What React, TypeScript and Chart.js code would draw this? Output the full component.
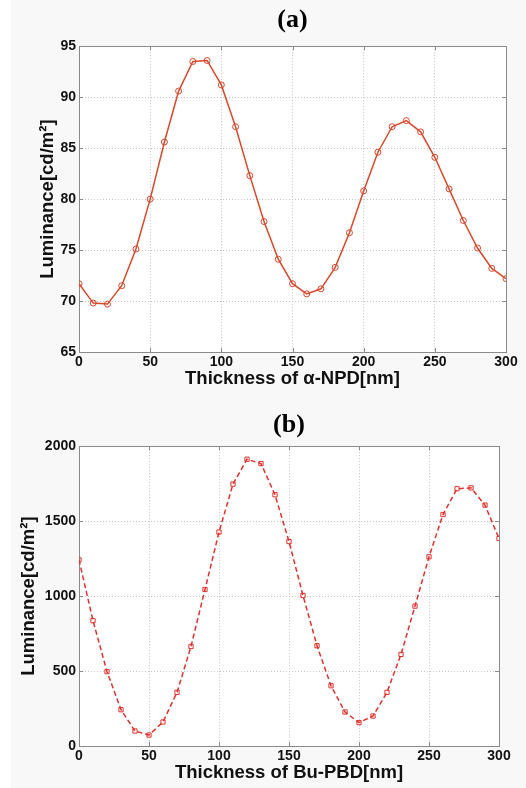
import React, { useEffect, useRef } from "react";
import { Chart, registerables } from "chart.js";

Chart.register(...registerables);

const thickness = [0, 10, 20, 30, 40, 50, 60, 70, 80, 90, 100, 110, 120, 130, 140, 150, 160, 170, 180, 190, 200, 210, 220, 230, 240, 250, 260, 270, 280, 290, 300];
const npdLuminance = [71.7, 69.8, 69.7, 71.5, 75.1, 80.0, 85.6, 90.6, 93.5, 93.6, 91.2, 87.1, 82.3, 77.8, 74.1, 71.7, 70.7, 71.2, 73.3, 76.7, 80.8, 84.6, 87.1, 87.7, 86.6, 84.1, 81.0, 77.9, 75.2, 73.2, 72.2];
const pbdLuminance = [1242, 836, 496, 242, 100, 73, 160, 358, 664, 1044, 1427, 1747, 1913, 1884, 1676, 1364, 1004, 669, 402, 227, 156, 200, 358, 611, 933, 1262, 1544, 1716, 1722, 1607, 1384];
const xTicks = [0, 50, 100, 150, 200, 250, 300];
const npdTicks = [65, 70, 75, 80, 85, 90, 95];
const pbdTicks = [0, 500, 1000, 1500, 2000];

const titleA = "(a)";
const titleB = "(b)";
const xLabelA = "Thickness of α-NPD[nm]";
const xLabelB = "Thickness of Bu-PBD[nm]";
const yLabel = "Luminance[cd/m²]";

const boxPlugin = {
  id: "matlabBox",
  beforeDraw(chart: any) {
    const { ctx, chartArea: a } = chart;
    ctx.save();
    ctx.fillStyle = "#ffffff";
    ctx.fillRect(a.left, a.top, a.width, a.height);
    ctx.restore();
  },
  beforeDatasetsDraw(chart: any) {
    const { ctx, chartArea: a, scales } = chart;
    ctx.save();
    ctx.strokeStyle = "#8a8a8a";
    ctx.lineWidth = 1;
    ctx.strokeRect(Math.round(a.left) + 0.5, Math.round(a.top) + 0.5, Math.round(a.width), Math.round(a.height));
    const tl = 4;
    ctx.beginPath();
    scales.x.ticks.forEach((t: any) => {
      const px = Math.round(scales.x.getPixelForValue(t.value)) + 0.5;
      ctx.moveTo(px, a.bottom);
      ctx.lineTo(px, a.bottom - tl);
      ctx.moveTo(px, a.top);
      ctx.lineTo(px, a.top + tl);
    });
    scales.y.ticks.forEach((t: any) => {
      const py = Math.round(scales.y.getPixelForValue(t.value)) + 0.5;
      ctx.moveTo(a.left, py);
      ctx.lineTo(a.left + tl, py);
      ctx.moveTo(a.right, py);
      ctx.lineTo(a.right - tl, py);
    });
    ctx.stroke();
    ctx.restore();
  },
};

type Cfg = {
  title: string;
  xLabel: string;
  values: number[];
  yTicks: number[];
  color: string;
  dash: number[];
  pointStyle: string;
  padTop: number;
  titleGap: number;
  padRight: number;
  yScaleWidth: number;
  yTitlePad: number;
};

function Panel({ cfg, top }: { cfg: Cfg; top: number }) {
  const ref = useRef<HTMLCanvasElement>(null);
  useEffect(() => {
    if (!ref.current) return;
    const data = thickness.map((x, i) => ({ x, y: cfg.values[i] }));
    const tickFont = { family: "'Liberation Sans', Arial, sans-serif", size: 14, weight: "bold" as const };
    const labelFont = { family: "'Liberation Sans', Arial, sans-serif", size: 18.5, weight: "bold" as const };
    const chart = new Chart(ref.current, {
      type: "line",
      data: {
        datasets: [
          {
            data,
            borderColor: cfg.color,
            borderWidth: 1.5,
            borderDash: cfg.dash,
            pointStyle: cfg.pointStyle as any,
            pointRadius: 3,
            pointBorderWidth: 1,
            pointBorderColor: cfg.color,
            pointBackgroundColor: "rgba(0,0,0,0)",
            tension: 0,
            fill: false,
          },
        ],
      },
      options: {
        animation: false,
        responsive: false,
        layout: { padding: { top: cfg.padTop, right: cfg.padRight, bottom: 4, left: 0 } },
        plugins: {
          legend: { display: false },
          tooltip: { enabled: false },
          title: {
            display: true,
            text: cfg.title,
            fullSize: false,
            color: "#000",
            font: { family: "'Liberation Serif', 'Times New Roman', serif", size: 26, weight: "bold" },
            padding: { top: 0, bottom: cfg.titleGap },
          },
        },
        scales: {
          x: {
            type: "linear",
            min: 0,
            max: 300,
            afterBuildTicks: (s: any) => {
              s.ticks = xTicks.map((v) => ({ value: v }));
            },
            afterFit: (s: any) => {
              s.height = 38;
            },
            ticks: { color: "#111", font: tickFont, padding: 2, maxRotation: 0, callback: (v: any) => String(v) },
            grid: { color: "#c4c4c4", lineWidth: 1, drawTicks: false },
            border: { display: false, dash: [1, 2] },
            title: { display: true, text: cfg.xLabel, color: "#111", font: labelFont, padding: { top: 0, bottom: 0 } },
          },
          y: {
            type: "linear",
            min: cfg.yTicks[0],
            max: cfg.yTicks[cfg.yTicks.length - 1],
            afterBuildTicks: (s: any) => {
              s.ticks = cfg.yTicks.map((v) => ({ value: v }));
            },
            afterFit: (s: any) => {
              s.width = cfg.yScaleWidth;
            },
            ticks: { color: "#111", font: tickFont, padding: 3, callback: (v: any) => String(v) },
            grid: { color: "#c4c4c4", lineWidth: 1, drawTicks: false },
            border: { display: false, dash: [1, 2] },
            title: { display: true, text: yLabel, color: "#111", font: labelFont, padding: { top: cfg.yTitlePad, bottom: 0 } },
          },
        },
      },
      plugins: [boxPlugin],
    } as any);
    return () => chart.destroy();
  }, [cfg]);
  return (
    <canvas
      ref={ref}
      width={526}
      height={394}
      style={{ position: "absolute", left: 0, top, width: 526, height: 394 }}
    />
  );
}

const cfgA: Cfg = {
  title: titleA,
  xLabel: xLabelA,
  values: npdLuminance,
  yTicks: npdTicks,
  color: "#d9482b",
  dash: [],
  pointStyle: "circle",
  padTop: 5,
  titleGap: 10,
  padRight: 20,
  yScaleWidth: 79,
  yTitlePad: 37,
};

const cfgB: Cfg = {
  title: titleB,
  xLabel: xLabelB,
  values: pbdLuminance,
  yTicks: pbdTicks,
  color: "#e2312c",
  dash: [5, 3],
  pointStyle: "rect",
  padTop: 16,
  titleGap: 5,
  padRight: 27,
  yScaleWidth: 79,
  yTitlePad: 18,
};

export default function App() {
  return (
    <div style={{ position: "absolute", left: 0, top: 0, width: 526, height: 788, background: "#f8f8f8", overflow: "hidden" }}>
      <div style={{ position: "absolute", left: 0, top: 0, width: 11, height: 788, background: "#ffffff" }} />
      <Panel cfg={cfgA} top={0} />
      <Panel cfg={cfgB} top={394} />
    </div>
  );
}
